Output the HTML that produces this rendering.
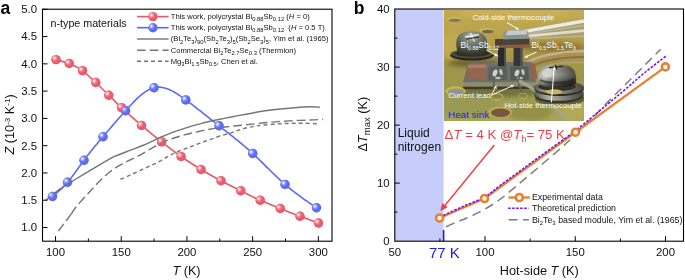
<!DOCTYPE html>
<html><head><meta charset="utf-8"><title>Figure</title>
<style>
html,body{margin:0;padding:0;background:#fff;}
body{width:685px;height:280px;overflow:hidden;}
svg{display:block;font-family:"Liberation Sans",Arial,sans-serif;}
.tk{font-size:11.4px;fill:#111;}
.ax{font-size:12.7px;fill:#111;}
.lg{font-size:7.6px;fill:#111;}
.lgb{font-size:8.8px;fill:#111;}
.ph{font-size:7.7px;fill:#fff;}
</style></head><body>
<svg width="685" height="280" viewBox="0 0 685 280">
<defs>
<radialGradient id="gr" cx="0.36" cy="0.36" r="0.62" fx="0.33" fy="0.33">
<stop offset="0" stop-color="#ffffff"/><stop offset="0.12" stop-color="#fce0e3"/><stop offset="0.32" stop-color="#f18f9a"/><stop offset="0.6" stop-color="#ea5d6f"/><stop offset="1" stop-color="#e8586a"/>
</radialGradient>
<radialGradient id="gb" cx="0.36" cy="0.36" r="0.62" fx="0.33" fy="0.33">
<stop offset="0" stop-color="#ffffff"/><stop offset="0.12" stop-color="#e2e6ff"/><stop offset="0.32" stop-color="#929cf9"/><stop offset="0.6" stop-color="#5e6ef4"/><stop offset="1" stop-color="#5a6af3"/>
</radialGradient>
<filter id="bl1" x="-20%" y="-20%" width="140%" height="140%"><feGaussianBlur stdDeviation="1"/></filter>
<filter id="bl2" x="-20%" y="-20%" width="140%" height="140%"><feGaussianBlur stdDeviation="2"/></filter>
<filter id="bl05" x="-20%" y="-20%" width="140%" height="140%"><feGaussianBlur stdDeviation="0.5"/></filter>
<clipPath id="pc"><rect x="444.6" y="10.8" width="138.8" height="110.2"/></clipPath>
</defs>
<rect width="685" height="280" fill="#fff"/>
<g opacity="0.999">

<g id="panel-a">
<text x="0.5" y="13.7" font-size="17.5" font-weight="bold" fill="#000">a</text>
<path d="M56.00,59.60 C57.32,59.99 66.55,62.40 69.20,63.50 C71.85,64.60 79.84,68.70 82.50,70.60 C85.16,72.50 93.12,80.04 95.75,82.50 C98.38,84.96 106.17,92.69 108.75,95.20 C111.33,97.71 118.22,104.58 121.50,107.60 C124.78,110.62 137.49,121.97 141.50,125.40 C145.51,128.83 157.64,138.79 161.60,141.90 C165.56,145.01 177.16,153.74 181.10,156.50 C185.04,159.26 197.01,167.07 201.00,169.50 C204.99,171.93 217.03,178.67 221.00,180.80 C224.97,182.93 236.82,188.85 240.75,190.80 C244.68,192.75 256.30,198.53 260.25,200.30 C264.20,202.08 276.27,206.95 280.25,208.55 C284.23,210.15 296.18,214.85 300.00,216.30 C303.82,217.75 316.65,222.38 318.50,223.05" fill="none" stroke="#e8586a" stroke-width="1.6"/>
<path d="M52.50,196.55 L53.50,195.70 L54.50,194.86 L55.50,194.00 L56.50,193.14 L57.50,192.26 L58.50,191.38 L59.50,190.47 L60.50,189.55 L61.50,188.60 L62.50,187.63 L63.50,186.63 L64.50,185.60 L65.50,184.54 L66.50,183.44 L67.50,182.30 L68.50,181.12 L69.50,179.90 L70.50,178.65 L71.50,177.37 L72.50,176.06 L73.50,174.72 L74.50,173.37 L75.50,172.00 L76.50,170.62 L77.50,169.22 L78.50,167.82 L79.50,166.42 L80.50,165.03 L81.50,163.63 L82.50,162.25 L83.50,160.88 L84.50,159.52 L85.50,158.19 L86.50,156.87 L87.50,155.56 L88.50,154.27 L89.50,153.00 L90.50,151.73 L91.50,150.48 L92.50,149.25 L93.50,148.02 L94.50,146.80 L95.50,145.59 L96.50,144.39 L97.50,143.19 L98.50,142.00 L99.50,140.82 L100.50,139.64 L101.50,138.46 L102.50,137.29 L103.50,136.11 L104.50,134.94 L105.50,133.77 L106.50,132.60 L107.50,131.43 L108.50,130.27 L109.50,129.10 L110.50,127.94 L111.50,126.78 L112.50,125.62 L113.50,124.47 L114.50,123.31 L115.50,122.16 L116.50,121.01 L117.50,119.87 L118.50,118.72 L119.50,117.58 L120.50,116.45 L121.50,115.31 L122.50,114.18 L123.50,113.06 L124.50,111.93 L125.50,110.81 L126.50,109.70 L127.50,108.59 L128.50,107.48 L129.50,106.39 L130.50,105.31 L131.50,104.24 L132.50,103.18 L133.50,102.15 L134.50,101.13 L135.50,100.13 L136.50,99.15 L137.50,98.20 L138.50,97.28 L139.50,96.38 L140.50,95.51 L141.50,94.68 L142.50,93.88 L143.50,93.11 L144.50,92.38 L145.50,91.69 L146.50,91.05 L147.50,90.44 L148.50,89.88 L149.50,89.37 L150.50,88.91 L151.50,88.50 L152.50,88.14 L153.50,87.83 L154.50,87.58 L155.50,87.39 L156.50,87.25 L157.50,87.17 L158.50,87.13 L159.50,87.15 L160.50,87.22 L161.50,87.33 L162.50,87.49 L163.50,87.69 L164.50,87.93 L165.50,88.21 L166.50,88.53 L167.50,88.88 L168.50,89.28 L169.50,89.70 L170.50,90.16 L171.50,90.64 L172.50,91.16 L173.50,91.70 L174.50,92.27 L175.50,92.86 L176.50,93.47 L177.50,94.10 L178.50,94.75 L179.50,95.42 L180.50,96.10 L181.50,96.79 L182.50,97.50 L183.50,98.22 L184.50,98.95 L185.50,99.68 L186.50,100.42 L187.50,101.16 L188.50,101.91 L189.50,102.66 L190.50,103.41 L191.50,104.17 L192.50,104.94 L193.50,105.70 L194.50,106.47 L195.50,107.25 L196.50,108.02 L197.50,108.80 L198.50,109.58 L199.50,110.36 L200.50,111.15 L201.50,111.93 L202.50,112.72 L203.50,113.51 L204.50,114.30 L205.50,115.09 L206.50,115.89 L207.50,116.68 L208.50,117.48 L209.50,118.27 L210.50,119.07 L211.50,119.86 L212.50,120.65 L213.50,121.45 L214.50,122.24 L215.50,123.04 L216.50,123.83 L217.50,124.62 L218.50,125.41 L219.50,126.19 L220.50,126.98 L221.50,127.76 L222.50,128.55 L223.50,129.33 L224.50,130.11 L225.50,130.90 L226.50,131.68 L227.50,132.47 L228.50,133.25 L229.50,134.04 L230.50,134.83 L231.50,135.62 L232.50,136.41 L233.50,137.21 L234.50,138.01 L235.50,138.81 L236.50,139.62 L237.50,140.43 L238.50,141.24 L239.50,142.06 L240.50,142.89 L241.50,143.72 L242.50,144.56 L243.50,145.40 L244.50,146.25 L245.50,147.11 L246.50,147.97 L247.50,148.84 L248.50,149.72 L249.50,150.61 L250.50,151.50 L251.50,152.41 L252.50,153.32 L253.50,154.24 L254.50,155.18 L255.50,156.12 L256.50,157.06 L257.50,158.02 L258.50,158.98 L259.50,159.95 L260.50,160.92 L261.50,161.90 L262.50,162.88 L263.50,163.86 L264.50,164.84 L265.50,165.83 L266.50,166.82 L267.50,167.81 L268.50,168.79 L269.50,169.78 L270.50,170.76 L271.50,171.74 L272.50,172.72 L273.50,173.70 L274.50,174.67 L275.50,175.63 L276.50,176.59 L277.50,177.54 L278.50,178.49 L279.50,179.42 L280.50,180.35 L281.50,181.27 L282.50,182.18 L283.50,183.08 L284.50,183.96 L285.50,184.84 L286.50,185.70 L287.50,186.55 L288.50,187.39 L289.50,188.21 L290.50,189.03 L291.50,189.84 L292.50,190.63 L293.50,191.42 L294.50,192.20 L295.50,192.96 L296.50,193.73 L297.50,194.48 L298.50,195.22 L299.50,195.96 L300.50,196.69 L301.50,197.42 L302.50,198.14 L303.50,198.85 L304.50,199.56 L305.50,200.26 L306.50,200.96 L307.50,201.66 L308.50,202.35 L309.50,203.04 L310.50,203.72 L311.50,204.41 L312.50,205.09 L313.50,205.77 L314.50,206.44 L315.50,207.12 L316.50,207.80" fill="none" stroke="#5a6af3" stroke-width="1.6"/>
<circle cx="56.00" cy="59.60" r="4.7" fill="url(#gr)"/>
<circle cx="69.20" cy="63.50" r="4.7" fill="url(#gr)"/>
<circle cx="82.50" cy="70.60" r="4.7" fill="url(#gr)"/>
<circle cx="95.75" cy="82.50" r="4.7" fill="url(#gr)"/>
<circle cx="108.75" cy="95.20" r="4.7" fill="url(#gr)"/>
<circle cx="121.50" cy="107.60" r="4.7" fill="url(#gr)"/>
<circle cx="141.50" cy="125.40" r="4.7" fill="url(#gr)"/>
<circle cx="161.60" cy="141.90" r="4.7" fill="url(#gr)"/>
<circle cx="181.10" cy="156.50" r="4.7" fill="url(#gr)"/>
<circle cx="201.00" cy="169.50" r="4.7" fill="url(#gr)"/>
<circle cx="221.00" cy="180.80" r="4.7" fill="url(#gr)"/>
<circle cx="240.75" cy="190.80" r="4.7" fill="url(#gr)"/>
<circle cx="260.25" cy="200.30" r="4.7" fill="url(#gr)"/>
<circle cx="280.25" cy="208.55" r="4.7" fill="url(#gr)"/>
<circle cx="300.00" cy="216.30" r="4.7" fill="url(#gr)"/>
<circle cx="318.50" cy="223.05" r="4.7" fill="url(#gr)"/>
<circle cx="52.50" cy="196.55" r="4.7" fill="url(#gb)"/>
<circle cx="67.50" cy="182.30" r="4.7" fill="url(#gb)"/>
<circle cx="84.00" cy="160.20" r="4.7" fill="url(#gb)"/>
<circle cx="103.00" cy="136.70" r="4.7" fill="url(#gb)"/>
<circle cx="125.60" cy="110.70" r="4.7" fill="url(#gb)"/>
<circle cx="154.00" cy="87.70" r="4.7" fill="url(#gb)"/>
<circle cx="185.80" cy="99.90" r="4.7" fill="url(#gb)"/>
<circle cx="219.00" cy="125.80" r="4.7" fill="url(#gb)"/>
<circle cx="252.75" cy="153.55" r="4.7" fill="url(#gb)"/>
<circle cx="285.00" cy="184.40" r="4.7" fill="url(#gb)"/>
<circle cx="316.50" cy="207.80" r="4.7" fill="url(#gb)"/>
<path d="M45.60,200.30 C46.17,199.86 51.20,195.95 52.40,195.00 C53.60,194.05 58.71,189.82 60.00,188.90 C61.29,187.98 66.12,185.10 67.90,184.00 C69.68,182.90 79.08,177.11 81.40,175.70 C83.72,174.29 93.08,168.65 95.70,167.10 C98.33,165.55 110.04,158.49 112.90,157.10 C115.76,155.71 127.74,151.28 130.00,150.40 C132.26,149.52 138.33,147.18 140.00,146.50 C141.67,145.82 148.33,143.05 150.00,142.30 C151.67,141.55 158.33,138.25 160.00,137.50 C161.67,136.75 168.33,133.94 170.00,133.30 C171.67,132.66 178.33,130.36 180.00,129.80 C181.67,129.24 188.33,127.10 190.00,126.60 C191.67,126.10 198.33,124.24 200.00,123.80 C201.67,123.36 208.33,121.68 210.00,121.30 C211.67,120.92 218.33,119.54 220.00,119.20 C221.67,118.86 227.83,117.62 230.00,117.20 C232.17,116.78 243.32,114.69 246.00,114.20 C248.68,113.71 259.52,111.71 262.20,111.30 C264.88,110.89 275.52,109.59 278.20,109.30 C280.88,109.01 291.62,108.01 294.30,107.80 C296.98,107.59 308.26,106.85 310.40,106.80 C312.54,106.75 319.20,107.17 320.00,107.20" fill="none" stroke="#757575" stroke-width="1.4" stroke-linejoin="round"/>
<path d="M58.40,231.00 C59.67,229.33 63.83,223.87 66.00,221.00 C68.17,218.13 70.50,215.00 71.40,213.80" fill="none" stroke="#757575" stroke-width="1.4" stroke-dasharray="8.7,4"/>
<path d="M71.40,213.80 C72.17,212.67 73.18,210.42 76.00,207.00 C78.82,203.58 84.30,197.67 88.30,193.30 C92.30,188.93 96.38,184.38 100.00,180.80 C103.62,177.22 106.67,174.40 110.00,171.80 C113.33,169.20 116.67,167.17 120.00,165.20 C123.33,163.23 126.67,161.67 130.00,160.00 C133.33,158.33 136.67,157.00 140.00,155.20 C143.33,153.40 146.67,151.12 150.00,149.20 C153.33,147.28 156.67,145.35 160.00,143.70 C163.33,142.05 166.67,140.55 170.00,139.30 C173.33,138.05 176.67,137.17 180.00,136.20 C183.33,135.23 186.67,134.33 190.00,133.50 C193.33,132.67 196.67,131.92 200.00,131.20 C203.33,130.48 206.67,129.80 210.00,129.20 C213.33,128.60 216.40,128.10 220.00,127.60 C223.60,127.10 227.27,126.67 231.60,126.20 C235.93,125.73 240.90,125.33 246.00,124.80 C251.10,124.27 256.83,123.53 262.20,123.00 C267.57,122.47 272.85,122.00 278.20,121.60 C283.55,121.20 288.93,120.87 294.30,120.60 C299.67,120.33 305.58,120.20 310.40,120.00 C315.22,119.80 321.07,119.50 323.20,119.40" fill="none" stroke="#757575" stroke-width="1.4" stroke-dasharray="8.7,4"/>
<path d="M120.40,179.40 C122.00,178.70 126.73,176.67 130.00,175.20 C133.27,173.73 136.67,172.13 140.00,170.60 C143.33,169.07 146.67,167.57 150.00,166.00 C153.33,164.43 156.67,163.00 160.00,161.20 C163.33,159.40 166.67,156.95 170.00,155.20 C173.33,153.45 176.67,152.07 180.00,150.70 C183.33,149.33 186.67,148.25 190.00,147.00 C193.33,145.75 196.67,144.43 200.00,143.20 C203.33,141.97 206.67,140.80 210.00,139.60 C213.33,138.40 216.67,137.07 220.00,136.00 C223.33,134.93 227.00,134.13 230.00,133.20 C233.00,132.27 235.33,131.27 238.00,130.40 C240.67,129.53 243.33,128.67 246.00,128.00 C248.67,127.33 251.30,126.87 254.00,126.40 C256.70,125.93 258.17,125.62 262.20,125.20 C266.23,124.78 272.85,124.22 278.20,123.90 C283.55,123.58 288.93,123.38 294.30,123.30 C299.67,123.22 306.38,123.28 310.40,123.40 C314.42,123.52 317.07,123.90 318.40,124.00" fill="none" stroke="#757575" stroke-width="1.4" stroke-dasharray="4,3"/>
<circle cx="56.00" cy="59.60" r="4.7" fill="url(#gr)" opacity="0.5"/>
<circle cx="69.20" cy="63.50" r="4.7" fill="url(#gr)" opacity="0.5"/>
<circle cx="82.50" cy="70.60" r="4.7" fill="url(#gr)" opacity="0.5"/>
<circle cx="95.75" cy="82.50" r="4.7" fill="url(#gr)" opacity="0.5"/>
<circle cx="108.75" cy="95.20" r="4.7" fill="url(#gr)" opacity="0.5"/>
<circle cx="121.50" cy="107.60" r="4.7" fill="url(#gr)" opacity="0.5"/>
<circle cx="141.50" cy="125.40" r="4.7" fill="url(#gr)" opacity="0.5"/>
<circle cx="161.60" cy="141.90" r="4.7" fill="url(#gr)" opacity="0.5"/>
<circle cx="181.10" cy="156.50" r="4.7" fill="url(#gr)" opacity="0.5"/>
<circle cx="201.00" cy="169.50" r="4.7" fill="url(#gr)" opacity="0.5"/>
<circle cx="221.00" cy="180.80" r="4.7" fill="url(#gr)" opacity="0.5"/>
<circle cx="240.75" cy="190.80" r="4.7" fill="url(#gr)" opacity="0.5"/>
<circle cx="260.25" cy="200.30" r="4.7" fill="url(#gr)" opacity="0.5"/>
<circle cx="280.25" cy="208.55" r="4.7" fill="url(#gr)" opacity="0.5"/>
<circle cx="300.00" cy="216.30" r="4.7" fill="url(#gr)" opacity="0.5"/>
<circle cx="318.50" cy="223.05" r="4.7" fill="url(#gr)" opacity="0.5"/>
<circle cx="52.50" cy="196.55" r="4.7" fill="url(#gb)" opacity="0.55"/>
<circle cx="67.50" cy="182.30" r="4.7" fill="url(#gb)" opacity="0.55"/>
<circle cx="84.00" cy="160.20" r="4.7" fill="url(#gb)" opacity="0.55"/>
<circle cx="103.00" cy="136.70" r="4.7" fill="url(#gb)" opacity="0.55"/>
<circle cx="125.60" cy="110.70" r="4.7" fill="url(#gb)" opacity="0.55"/>
<circle cx="154.00" cy="87.70" r="4.7" fill="url(#gb)" opacity="0.55"/>
<circle cx="185.80" cy="99.90" r="4.7" fill="url(#gb)" opacity="0.55"/>
<circle cx="219.00" cy="125.80" r="4.7" fill="url(#gb)" opacity="0.55"/>
<circle cx="252.75" cy="153.55" r="4.7" fill="url(#gb)" opacity="0.55"/>
<circle cx="285.00" cy="184.40" r="4.7" fill="url(#gb)" opacity="0.55"/>
<circle cx="316.50" cy="207.80" r="4.7" fill="url(#gb)" opacity="0.55"/>
<rect x="42.5" y="9.2" width="289.5" height="232.0" fill="none" stroke="#000" stroke-width="1.1"/>
<path d="M55.54,241.20 v-5.0 M88.39,241.20 v-2.7 M121.24,241.20 v-5.0 M154.09,241.20 v-2.7 M186.94,241.20 v-5.0 M219.79,241.20 v-2.7 M252.64,241.20 v-5.0 M285.49,241.20 v-2.7 M318.34,241.20 v-5.0 M42.50,227.50 h5.0 M42.50,200.22 h5.0 M42.50,172.95 h5.0 M42.50,145.68 h5.0 M42.50,118.40 h5.0 M42.50,91.12 h5.0 M42.50,63.85 h5.0 M42.50,36.58 h5.0 M42.50,9.30 h5.0" stroke="#000" stroke-width="1" fill="none"/>
<text class="tk" x="55.54" y="255.6" text-anchor="middle">100</text>
<text class="tk" x="121.24" y="255.6" text-anchor="middle">150</text>
<text class="tk" x="186.94" y="255.6" text-anchor="middle">200</text>
<text class="tk" x="252.64" y="255.6" text-anchor="middle">250</text>
<text class="tk" x="318.34" y="255.6" text-anchor="middle">300</text>
<text class="tk" x="37" y="231.40" text-anchor="end">1.0</text>
<text class="tk" x="37" y="204.12" text-anchor="end">1.5</text>
<text class="tk" x="37" y="176.85" text-anchor="end">2.0</text>
<text class="tk" x="37" y="149.58" text-anchor="end">2.5</text>
<text class="tk" x="37" y="122.30" text-anchor="end">3.0</text>
<text class="tk" x="37" y="95.02" text-anchor="end">3.5</text>
<text class="tk" x="37" y="67.75" text-anchor="end">4.0</text>
<text class="tk" x="37" y="40.48" text-anchor="end">4.5</text>
<text class="tk" x="37" y="13.20" text-anchor="end">5.0</text>
<text class="ax" x="186.5" y="275.3" text-anchor="middle"><tspan font-style="italic">T</tspan> (K)</text>
<text class="ax" transform="translate(14.3,154.5) rotate(-90)"><tspan font-style="italic">Z</tspan> (10<tspan font-size="8" dy="-4.5">-3</tspan><tspan dy="4.5"> K</tspan><tspan font-size="8" dy="-4.5">-1</tspan><tspan dy="4.5">)</tspan></text>
<text x="50.6" y="26.7" font-size="10.7" fill="#111">n-type materials</text>
<path d="M137,16.6 H168.6" stroke="#e8586a" stroke-width="1.6"/>
<circle cx="152.9" cy="16.6" r="4.7" fill="url(#gr)"/>
<path d="M137,27.7 H168.6" stroke="#5a6af3" stroke-width="1.6"/>
<circle cx="152.9" cy="27.7" r="4.7" fill="url(#gb)"/>
<path d="M137,39.0 H168.6" stroke="#757575" stroke-width="1.4"/>
<path d="M137,50.3 H168.6" stroke="#757575" stroke-width="1.4" stroke-dasharray="8.7,4"/>
<path d="M137,61.3 H168.6" stroke="#757575" stroke-width="1.4" stroke-dasharray="4,3"/>
<text class="lg" x="170.8" y="18.9"><tspan>This work, polycrystal Bi</tspan><tspan font-size="5.8" dy="2.2">0.88</tspan><tspan dy="-2.2">Sb</tspan><tspan font-size="5.8" dy="2.2">0.12</tspan><tspan dy="-2.2"> (</tspan><tspan font-style="italic">H</tspan><tspan> = 0)</tspan></text>
<text class="lg" x="170.8" y="30.0"><tspan>This work, polycrystal Bi</tspan><tspan font-size="5.8" dy="2.2">0.88</tspan><tspan dy="-2.2">Sb</tspan><tspan font-size="5.8" dy="2.2">0.12</tspan><tspan dy="-2.2">  (</tspan><tspan font-style="italic">H</tspan><tspan> = 0.5 T)</tspan></text>
<text class="lg" x="170.8" y="41.3"><tspan>(Bi</tspan><tspan font-size="5.8" dy="2.2">2</tspan><tspan dy="-2.2">Te</tspan><tspan font-size="5.8" dy="2.2">3</tspan><tspan dy="-2.2">)</tspan><tspan font-size="5.8" dy="2.2">90</tspan><tspan dy="-2.2">(Sb</tspan><tspan font-size="5.8" dy="2.2">2</tspan><tspan dy="-2.2">Te</tspan><tspan font-size="5.8" dy="2.2">3</tspan><tspan dy="-2.2">)</tspan><tspan font-size="5.8" dy="2.2">5</tspan><tspan dy="-2.2">(Sb</tspan><tspan font-size="5.8" dy="2.2">2</tspan><tspan dy="-2.2">Se</tspan><tspan font-size="5.8" dy="2.2">3</tspan><tspan dy="-2.2">)</tspan><tspan font-size="5.8" dy="2.2">5</tspan><tspan dy="-2.2">, Yim et al. (1965)</tspan></text>
<text class="lg" x="170.8" y="52.6"><tspan>Commercial Bi</tspan><tspan font-size="5.8" dy="2.2">2</tspan><tspan dy="-2.2">Te</tspan><tspan font-size="5.8" dy="2.2">2.7</tspan><tspan dy="-2.2">Se</tspan><tspan font-size="5.8" dy="2.2">0.3</tspan><tspan dy="-2.2"> (Thermion)</tspan></text>
<text class="lg" x="170.8" y="63.6"><tspan>Mg</tspan><tspan font-size="5.8" dy="2.2">3</tspan><tspan dy="-2.2">Bi</tspan><tspan font-size="5.8" dy="2.2">1.5</tspan><tspan dy="-2.2">Sb</tspan><tspan font-size="5.8" dy="2.2">0.5</tspan><tspan dy="-2.2">, Chen et al.</tspan></text>
</g>
<g id="panel-b">
<text x="353.8" y="13.8" font-size="17.5" font-weight="bold" fill="#000">b</text>
<rect x="394.80" y="9.00" width="48.80" height="232.20" fill="#c6cdfa"/>
<g id="photo" clip-path="url(#pc)">
<defs>
<linearGradient id="pbg" x1="0" y1="0" x2="0" y2="1">
<stop offset="0" stop-color="#c4ab54"/><stop offset="0.22" stop-color="#b9a24c"/><stop offset="0.45" stop-color="#a39348"/><stop offset="0.7" stop-color="#9a984e"/><stop offset="1" stop-color="#a8a55e"/>
</linearGradient>
<radialGradient id="scr1" cx="0.48" cy="0.22" r="0.75"><stop offset="0" stop-color="#c4c8be"/><stop offset="0.3" stop-color="#80867a"/><stop offset="0.7" stop-color="#565a4e"/><stop offset="1" stop-color="#34362e"/></radialGradient>
<linearGradient id="scr2" x1="0" y1="0" x2="1" y2="0.25"><stop offset="0" stop-color="#8e9088"/><stop offset="0.3" stop-color="#c6cac2"/><stop offset="0.55" stop-color="#8a8c84"/><stop offset="0.85" stop-color="#54564e"/><stop offset="1" stop-color="#3a3a34"/></linearGradient>
<linearGradient id="scr2v" x1="0" y1="0" x2="0" y2="1"><stop offset="0" stop-color="#000" stop-opacity="0.15"/><stop offset="0.45" stop-color="#fff" stop-opacity="0.12"/><stop offset="0.75" stop-color="#000" stop-opacity="0.25"/><stop offset="1" stop-color="#000" stop-opacity="0.65"/></linearGradient>
<linearGradient id="wsh2" x1="0" y1="0" x2="1" y2="0"><stop offset="0" stop-color="#5a5a50"/><stop offset="0.3" stop-color="#b0b0a4"/><stop offset="0.55" stop-color="#8a8a7e"/><stop offset="1" stop-color="#45453c"/></linearGradient>
</defs>
<rect x="444" y="10" width="140" height="112" fill="url(#pbg)"/>
<g filter="url(#bl2)">
<ellipse cx="515" cy="13" rx="55" ry="6" fill="#cbb258" opacity="0.85"/>
<ellipse cx="450" cy="45" rx="10" ry="14" fill="#c2ab50" opacity="0.9"/>
<ellipse cx="572" cy="42" rx="20" ry="8" fill="#b69c44"/>
<ellipse cx="552" cy="47" rx="34" ry="5" fill="#8a7434" opacity="0.9"/>
<ellipse cx="474" cy="63" rx="26" ry="4" fill="#6a5c2c" opacity="0.9"/>
<ellipse cx="500" cy="92" rx="44" ry="5" fill="#6c6e36" opacity="0.9"/>
<ellipse cx="468" cy="107" rx="30" ry="10" fill="#9a9a54"/>
<ellipse cx="574" cy="108" rx="14" ry="14" fill="#b2a858"/>
<ellipse cx="530" cy="112" rx="22" ry="9" fill="#929048"/>
<ellipse cx="572" cy="62" rx="14" ry="6" fill="#a09a46"/>
</g>
<g filter="url(#bl05)">
<!-- holes -->
<ellipse cx="454.5" cy="19.6" rx="7.2" ry="2.4" fill="#d4c452"/>
<ellipse cx="454.8" cy="20.3" rx="6.3" ry="1.8" fill="#857a64"/>
<ellipse cx="487" cy="30.8" rx="7" ry="2.4" fill="#cfc04e"/>
<ellipse cx="487.8" cy="31.5" rx="6" ry="1.8" fill="#6e6650"/>
<!-- thermocouple wires top right -->
<path d="M516,30.5 L584,18.5 L584,38 L530,39 L516,36.5 Z" fill="#aea068"/>
<path d="M518,32.6 L584,21" stroke="#ecece2" stroke-width="3.4" fill="none"/>
<path d="M518,35.2 L584,25.4" stroke="#b4b4a2" stroke-width="1.8" fill="none"/>
<path d="M522,36.6 L584,30.6" stroke="#deddce" stroke-width="2.6" fill="none"/>
<path d="M530,38.6 L584,36" stroke="#bcb496" stroke-width="1.5" fill="none"/>
<!-- copper arcs right middle -->
<path d="M526,63 Q545,52 584,51" stroke="#c4b096" stroke-width="2.6" fill="none"/>
<path d="M530,67 Q550,57 584,57" stroke="#94684c" stroke-width="2.2" fill="none"/>
<path d="M533,71 Q553,61 584,62.5" stroke="#b49e7c" stroke-width="1.6" fill="none"/>
<!-- left screw washer -->
<ellipse cx="472" cy="55.2" rx="21.8" ry="5.4" fill="#26261e"/>
<ellipse cx="472" cy="53.8" rx="21.2" ry="4.6" fill="#4e4e42"/>
<ellipse cx="472" cy="53.4" rx="17" ry="3.4" fill="#2e2e26"/>
<!-- left screw head -->
<path d="M457.5,51.5 C455,43 456,36 462,33.2 C467,31 476,31 481,33.2 C487,36 488.5,43 486,51.5 C481,55.8 462.5,55.8 457.5,51.5 Z" fill="url(#scr1)"/>
<path d="M465,37 L479,34.5 M470.5,33 L474.5,41.5" stroke="#eeeeea" stroke-width="1.6" fill="none" opacity="0.9"/>
<path d="M466,39.2 L479,37" stroke="#24241e" stroke-width="1.1" fill="none"/>
<!-- ceramic base -->
<path d="M468.6,62.4 L531.4,61.8 L536,82.4 L462.9,82.6 Z" fill="#6c706a"/>
<path d="M462.9,82.6 L536,82.4 L536,86.4 L462.9,86.8 Z" fill="#8c8c72"/>
<path d="M462.9,86.8 L536,86.4 L536,89 L462.9,89.6 Z" fill="#3c3c2a"/>
<!-- copper pads -->
<path d="M468.4,64.6 L486.4,64.4 L486,79.4 L466.4,79.8 Z" fill="#93664e"/>
<path d="M468.4,64.6 L486.4,64.4 L486.3,68 L468,68.3 Z" fill="#a87c62"/>
<path d="M530,63.5 L535,63.2 L537.5,79 L531,79.2 Z" fill="#8e6448"/>
<!-- solder areas -->
<path d="M488.6,66.7 L507,66.5 L507.4,80.2 L488.4,80.4 Z" fill="#5c5e5c"/>
<path d="M510,66.5 L528.4,66.3 L529,80 L510.2,80.2 Z" fill="#585a58"/>
<g opacity="0.85"><ellipse cx="495" cy="73" rx="2.2" ry="3.6" fill="#e8e8e4" transform="rotate(20 495 73)"/><ellipse cx="501" cy="72" rx="1.6" ry="3" fill="#d8d8d4" transform="rotate(-15 501 72)"/><ellipse cx="517" cy="73" rx="2.2" ry="3.4" fill="#e4e4e0" transform="rotate(20 517 73)"/><ellipse cx="523" cy="72" rx="1.6" ry="3" fill="#d4d4d0" transform="rotate(-15 523 72)"/><ellipse cx="498" cy="78" rx="3" ry="1.2" fill="#cfcfca"/><ellipse cx="520" cy="78" rx="3" ry="1.2" fill="#cfcfca"/></g>
<!-- lower dark plate and top block -->
<path d="M495,39 L529.5,38.5 L529.5,46 L495,47 Z" fill="#4a4238"/>
<path d="M495,45.3 L529.5,44.3 L529.5,47.6 L495,48.6 Z" fill="#8e5c40"/>
<path d="M502.8,33.5 L508,30.6 L527.5,30.4 L529.3,38.6 L503.3,39.6 Z" fill="#8a9294"/>
<path d="M508,30.6 L527.5,30.4 L526.5,34.6 L505.5,35.2 Z" fill="#c6cccc"/>
<!-- legs -->
<rect x="498" y="47.8" width="8" height="18.4" fill="#2c2c2e"/>
<rect x="513.6" y="47.8" width="8.8" height="18.2" fill="#343436"/>
<rect x="504" y="47.8" width="2" height="18.4" fill="#4e4e50"/>
<rect x="520.2" y="47.8" width="2.2" height="18.2" fill="#545456"/>
<!-- current lead wires -->
<path d="M494.3,77.4 L492.9,96 M519.3,74.6 L518.8,85 L522.9,94" stroke="#5c6652" stroke-width="1.7" fill="none"/>
<!-- gold eyelets -->
<ellipse cx="455.5" cy="91" rx="10.2" ry="4.4" fill="#cdb94a"/>
<ellipse cx="456" cy="91.7" rx="8.2" ry="3.1" fill="#8e968e"/>
<ellipse cx="500" cy="112" rx="12" ry="5.6" fill="#bfae50"/>
<ellipse cx="500.5" cy="112.8" rx="9.6" ry="4.2" fill="#7c5442"/>
<ellipse cx="497" cy="97" rx="6" ry="3.2" fill="none" stroke="#bcae4c" stroke-width="1.2"/>
<ellipse cx="523" cy="96" rx="4.5" ry="2.6" fill="none" stroke="#b4a84c" stroke-width="1"/>
<!-- hot-side thermocouple wire -->
<path d="M519,81 C530,86 548,98 567,121" stroke="#a4a48e" stroke-width="3.2" fill="none"/>
<!-- right screw washers -->
<ellipse cx="560" cy="99" rx="25" ry="6.5" fill="#56562e" opacity="0.85"/>
<ellipse cx="559" cy="95.5" rx="24.5" ry="7.6" fill="#34342c"/>
<ellipse cx="559" cy="93.6" rx="24.5" ry="7.2" fill="url(#wsh2)"/>
<ellipse cx="559" cy="89" rx="24.8" ry="7" fill="#2e2e28"/>
<ellipse cx="559" cy="87.4" rx="24.8" ry="6.6" fill="url(#wsh2)"/>
<ellipse cx="557" cy="86.5" rx="19" ry="4.6" fill="#33332c"/>
<ellipse cx="554" cy="91.8" rx="8" ry="2.6" fill="#c6b65c"/>
<!-- right screw head -->
<path d="M538.6,83.5 C537.4,76 538.5,70 544,66.6 C549,64 565,64 570,66.6 C575.5,70 577,76 575.8,83.5 C569,89 545.5,89 538.6,83.5 Z" fill="url(#scr2)"/>
<path d="M538.6,83.5 C537.4,76 538.5,70 544,66.6 C549,64 565,64 570,66.6 C575.5,70 577,76 575.8,83.5 C569,89 545.5,89 538.6,83.5 Z" fill="url(#scr2v)"/>
<ellipse cx="548" cy="73" rx="6.5" ry="4.5" fill="#e2e4dc" opacity="0.55"/><path d="M540,80 C548,84 566,84 575,79" stroke="#1e1e18" stroke-width="2.2" fill="none" opacity="0.55"/><path d="M549,67.6 L563,66.4 M555,65 L557,69.5" stroke="#22221c" stroke-width="1.4" fill="none"/>
</g>
<!-- white arrows -->
<g stroke="#fff" stroke-width="1" fill="#fff">
<path d="M506.8,22.5 L517.5,28.7"/><path d="M519.3,29.8 L515.4,29.3 L516.8,26.8 Z" stroke="none"/>
<path d="M487,50.3 L496.5,55.3"/><path d="M498.4,56.3 L494.5,55.9 L495.8,53.3 Z" stroke="none"/>
<path d="M536.5,52 L526,56.8"/><path d="M524,57.7 L527,55 L528.2,57.6 Z" stroke="none"/>
<path d="M491.5,95.2 L495.5,87"/><path d="M496.3,85.2 L496.8,89 L494,87.7 Z" stroke="none"/>
<path d="M491.5,95.2 L512.5,85.8"/><path d="M514.4,85 L511.8,87.8 L510.6,85.2 Z" stroke="none"/>
<path d="M551.3,102.3 L554.2,68.5"/><path d="M554.4,66 L555.8,69.8 L552.8,69.6 Z" stroke="none"/>
</g>
<text class="ph" x="472.8" y="20.4">Cold-side thermocouple</text>
<text x="460.6" y="47.6" font-size="8.4" fill="#fff">Bi<tspan font-size="5.3" dy="2.2">0.88</tspan><tspan dy="-2.2">Sb</tspan><tspan font-size="5.3" dy="2.2">0.12</tspan></text>
<text x="531.5" y="47.6" font-size="8.4" fill="#fff">Bi<tspan font-size="5.3" dy="2.2">0.5</tspan><tspan dy="-2.2">Sb</tspan><tspan font-size="5.3" dy="2.2">1.5</tspan><tspan dy="-2.2">Te</tspan><tspan font-size="5.3" dy="2.2">3</tspan></text>
<text class="ph" x="448.4" y="97.7" font-size="7.6">Current lead</text>
<text class="ph" x="504.4" y="107.8" font-size="7.65">Hot-side thermocouple</text>
<text x="448" y="118.1" font-size="9.9" fill="#1c1cf0">Heat sink</text>
</g>

<path d="M446.00,226.70 C447.87,225.88 453.83,223.22 457.20,221.80 C460.57,220.38 462.52,219.80 466.20,218.20 C469.88,216.60 475.05,214.40 479.30,212.20 C483.55,210.00 487.52,207.70 491.70,205.00 C495.88,202.30 498.25,200.88 504.40,196.00 C510.55,191.12 519.82,183.13 528.60,175.70 C537.38,168.27 549.97,157.58 557.10,151.40 C564.23,145.22 566.13,143.55 571.40,138.60 C576.67,133.65 582.68,127.73 588.70,121.70 C594.72,115.67 601.25,108.73 607.50,102.40 C613.75,96.07 619.97,89.93 626.20,83.70 C632.43,77.47 639.17,70.75 644.90,65.00 C650.63,59.25 657.98,51.83 660.60,49.20" fill="none" stroke="#7d7d7d" stroke-width="1.5" stroke-dasharray="9,5.4"/>
<path d="M439.60,218.00 L484.50,198.50 L575.50,132.20 L665.40,66.90" fill="none" stroke="#e58231" stroke-width="2.3"/>
<path d="M439.60,217.20 C443.33,215.48 454.52,210.23 462.00,206.90 C469.48,203.57 478.17,200.75 484.50,197.20 C490.83,193.65 494.08,189.97 500.00,185.60 C505.92,181.23 512.85,176.22 520.00,171.00 C527.15,165.78 533.63,161.05 542.90,154.30 C552.17,147.55 564.83,138.83 575.60,130.50 C586.37,122.17 599.07,111.28 607.50,104.30 C615.93,97.32 619.97,93.90 626.20,88.60 C632.43,83.30 638.17,78.00 644.90,72.50 C651.63,67.00 662.98,58.42 666.60,55.60" fill="none" stroke="#7a12f5" stroke-width="1.6" stroke-dasharray="2.6,1.4"/>
<circle cx="439.60" cy="218.00" r="3.5" fill="#fff" stroke="#e58231" stroke-width="2.6"/>
<circle cx="484.50" cy="198.50" r="3.5" fill="#fff" stroke="#e58231" stroke-width="2.6"/>
<circle cx="575.50" cy="132.20" r="3.5" fill="#fff" stroke="#e58231" stroke-width="2.6"/>
<circle cx="665.40" cy="66.90" r="3.5" fill="#fff" stroke="#e58231" stroke-width="2.6"/>
<path d="M494.3,145 L443.6,207" stroke="#f03c46" stroke-width="1.4" fill="none"/>
<path d="M440.3,211 L442.3,203 L447.6,207.3 Z" fill="#f03c46"/>
<path d="M443.6,230 V241" stroke="#1a1af0" stroke-width="1.6"/>
<rect x="394.8" y="9.0" width="288.7" height="232.2" fill="none" stroke="#000" stroke-width="1.1"/>
<path d="M439.88,241.20 v-2.7 M485.00,241.20 v-5.0 M530.12,241.20 v-2.7 M575.25,241.20 v-5.0 M620.38,241.20 v-2.7 M665.50,241.20 v-5.0 M394.80,212.10 h2.7 M394.80,183.10 h5.0 M394.80,154.10 h2.7 M394.80,125.10 h5.0 M394.80,96.10 h2.7 M394.80,67.10 h5.0 M394.80,38.10 h2.7" stroke="#000" stroke-width="1" fill="none"/>
<text class="tk" x="394.75" y="255.7" text-anchor="middle">50</text>
<text class="tk" x="485.00" y="255.7" text-anchor="middle">100</text>
<text class="tk" x="575.25" y="255.7" text-anchor="middle">150</text>
<text class="tk" x="665.50" y="255.7" text-anchor="middle">200</text>
<text class="tk" x="389.6" y="245.00" text-anchor="end">0</text>
<text class="tk" x="389.6" y="187.00" text-anchor="end">10</text>
<text class="tk" x="389.6" y="129.00" text-anchor="end">20</text>
<text class="tk" x="389.6" y="71.00" text-anchor="end">30</text>
<text class="tk" x="389.6" y="13.00" text-anchor="end">40</text>
<text x="429" y="257.6" font-size="15" fill="#1a1af0">77 K</text>
<text class="ax" x="539.3" y="275.4" text-anchor="middle" font-size="13.4">Hot-side <tspan font-style="italic">T</tspan> (K)</text>
<text class="ax" transform="translate(367.4,151.4) rotate(-90)" font-size="13">Δ<tspan font-style="italic">T</tspan><tspan font-size="9.5" dy="2.6">max</tspan><tspan dy="-2.6"> (K)</tspan></text>
<text x="397.7" y="136.8" font-size="12" fill="#111">Liquid</text>
<text x="397.7" y="151.4" font-size="12" fill="#111">nitrogen</text>
<text x="444.6" y="138.5" font-size="13.2" fill="#f03c46">Δ<tspan font-style="italic">T</tspan> = 4 K @<tspan font-style="italic">T</tspan><tspan font-size="9" dy="3">h</tspan><tspan dy="-3">= 75 K</tspan></text>
<path d="M508.5,197.5 H529.9" stroke="#e58231" stroke-width="2.3"/>
<circle cx="519.3" cy="197.5" r="3.5" fill="#fff" stroke="#e58231" stroke-width="2.6"/>
<path d="M508.1,208.3 H528.5" stroke="#7a12f5" stroke-width="1.6" stroke-dasharray="2.6,1.4"/>
<path d="M508.6,219.7 H517.6 M523,219.7 H529.2" stroke="#7d7d7d" stroke-width="1.5"/>
<text class="lgb" x="531.9" y="200.4">Experimental data</text>
<text class="lgb" x="531.9" y="211.4">Theoretical prediction</text>
<text class="lgb" x="531.9" y="222.8">Bi<tspan font-size="6" dy="2">2</tspan><tspan dy="-2">Te</tspan><tspan font-size="6" dy="2">3</tspan><tspan dy="-2"> based module, Yim et al. (1965)</tspan></text>
</g>
</g></svg></body></html>
